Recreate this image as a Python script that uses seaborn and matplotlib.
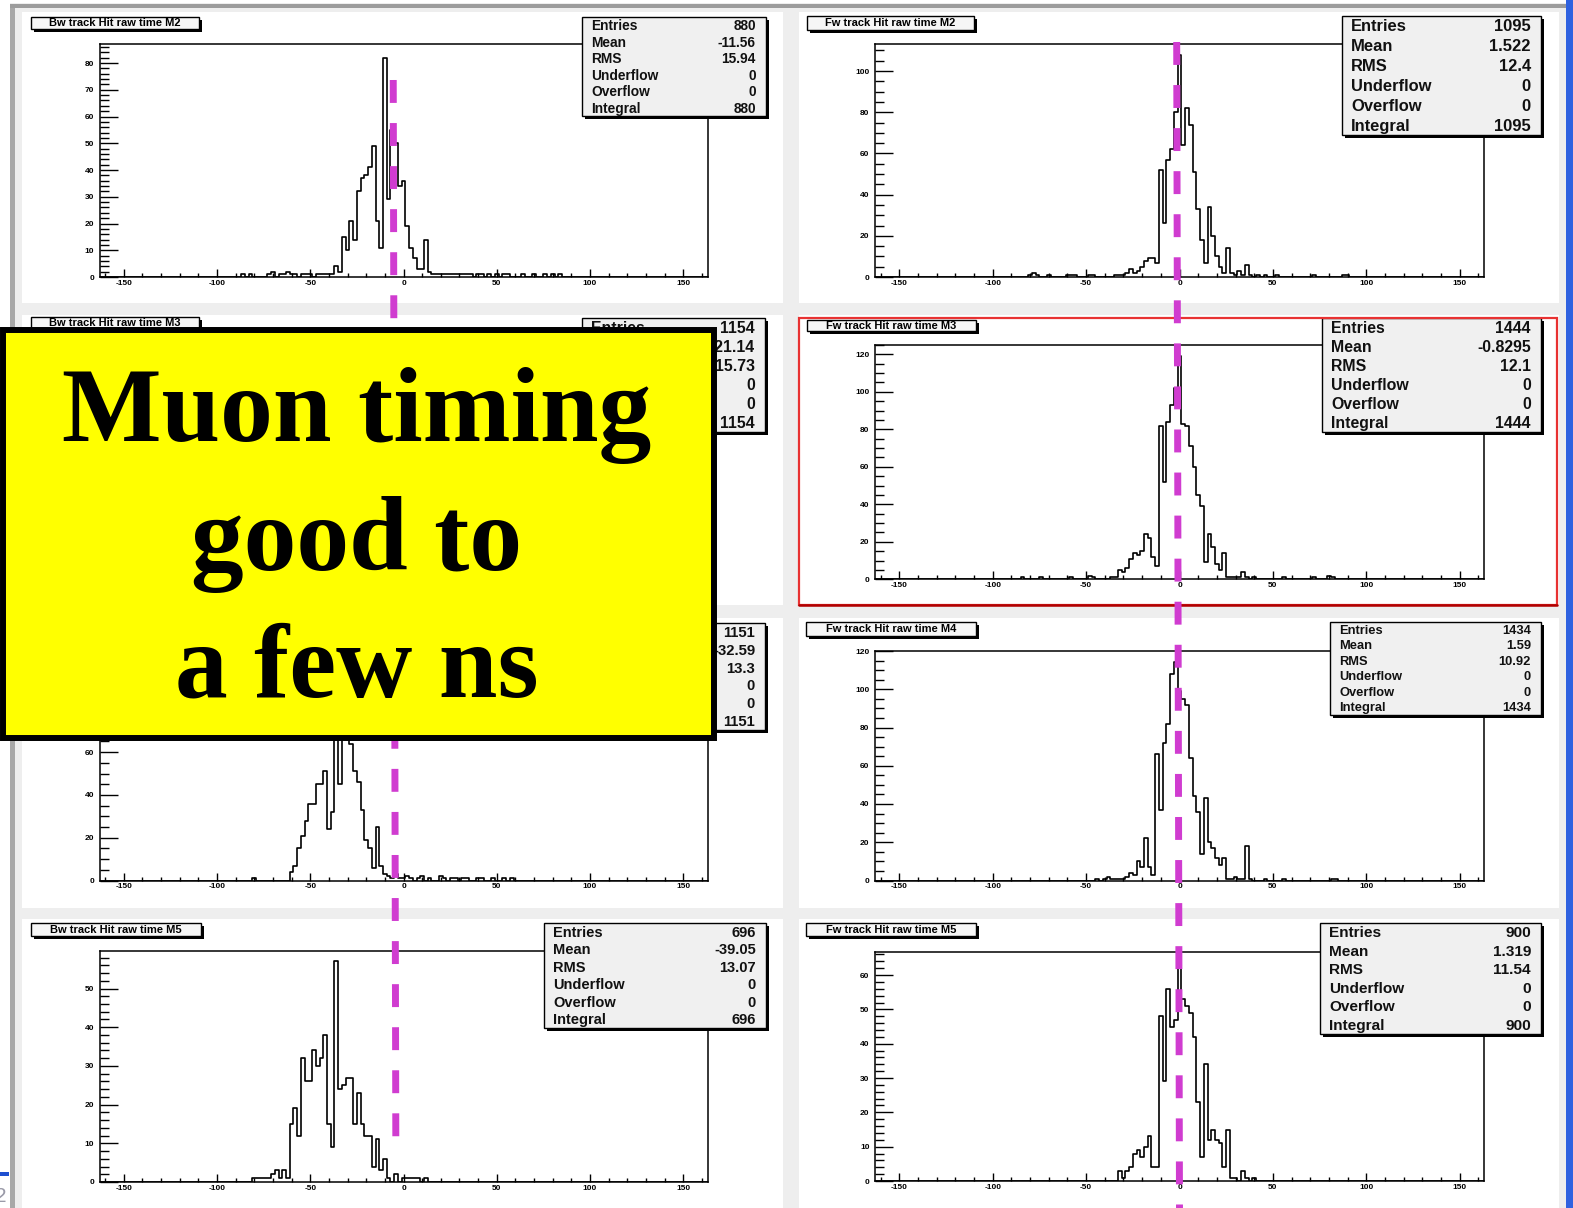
import numpy as np
import pandas as pd
import matplotlib
matplotlib.use("Agg")
import matplotlib.pyplot as plt
import seaborn as sns
from matplotlib.patches import Rectangle
from matplotlib.ticker import MultipleLocator, FuncFormatter

# ---------------- data ----------------
bin_lo, bin_hi, bin_width = -163, 163, 2     # histogram range (ns), 2 ns bins

# counts per bin: core = consecutive bins starting at bin centre *_start, tails = sparse bins
bw_m2_start = -36
bw_m2_core = [4, 2, 15, 10, 21, 14, 32, 37, 38, 41, 49, 21, 11, 82, 29, 55, 50, 34, 36,
              19, 11, 7, 3, 3, 14, 2, 1, 1, 1]
bw_m2_tail_t = [-86, -82, -72, -70, -66, -64, -62, -60, -58, -54, -52, -50, -46, -44, -42, -40, -38,
                22, 24, 26, 28, 30, 32, 34, 36, 40, 42, 46, 50, 54, 56, 64, 70, 76, 80, 84]
bw_m2_tail_n = [1, 1, 1, 2, 1, 1, 2, 1, 1, 1, 1, 1, 1, 1, 1, 1, 1,
                1, 1, 1, 1, 1, 1, 1, 1, 1, 1, 1, 1, 1, 1, 1, 1, 1, 1, 1]

fw_m2_start = -34
fw_m2_core = [1, 1, 1, 2, 4, 2, 3, 5, 8, 9, 9, 7, 52, 26, 57, 62, 80, 108, 64, 82, 74, 51,
              33, 18, 7, 34, 20, 10, 5, 2, 14, 2, 1, 3, 1, 6, 1]
fw_m2_tail_t = [-80, -78, -76, -70, -60, -58, -56, -48, -46, 42, 46, 52, 72, 88, 90]
fw_m2_tail_n = [1, 2, 1, 1, 1, 1, 1, 1, 1, 1, 1, 1, 1, 1, 1]

fw_m3_start = -32
fw_m3_core = [5, 4, 6, 11, 14, 13, 15, 24, 22, 12, 7, 82, 52, 84, 93, 102, 119, 83, 82, 71,
              60, 45, 39, 9, 24, 17, 8, 5, 14, 1, 1, 1, 1, 4, 1]
fw_m3_tail_t = [-84, -74, -58, -48, -46, -36, -34, 40, 56, 72, 80, 82]
fw_m3_tail_n = [1, 1, 1, 2, 1, 1, 1, 1, 1, 1, 2, 1]

bw_m4_start = -60
bw_m4_core = [4, 7, 15, 21, 28, 36, 36, 45, 45, 51, 24, 32, 80, 45, 95, 102, 64, 51, 46, 33,
              19, 15, 6, 25, 7, 3, 2, 1, 3, 1]
bw_m4_tail_t = [-80, 0, 2, 4, 8, 10, 14, 20, 22, 26, 28, 32, 34, 40, 42, 48, 54, 58]
bw_m4_tail_n = [1, 1, 2, 1, 1, 2, 1, 2, 1, 1, 1, 1, 1, 1, 1, 1, 1, 1]

fw_m4_start = -28
fw_m4_core = [2, 4, 3, 10, 7, 22, 7, 3, 66, 37, 72, 82, 108, 114, 99, 95, 92, 64, 44, 36,
              14, 43, 20, 17, 12, 8, 12, 1, 1, 2, 1, 1, 18, 1]
fw_m4_tail_t = [-44, -40, -38, -36, -34, -32, -30, 46, 56, 82, 84]
fw_m4_tail_n = [1, 1, 2, 1, 1, 1, 1, 1, 1, 1, 1]

bw_m5_start = -70
bw_m5_core = [2, 3, 1, 3, 1, 15, 19, 12, 32, 26, 26, 34, 30, 32, 38, 15, 9, 57, 24, 25, 27,
              27, 15, 23, 15, 12, 12, 4, 11, 3, 6, 1, 0, 2]
bw_m5_tail_t = [-80, -78, -76, -74, -72, 0, 2, 4, 6, 8, 12]
bw_m5_tail_n = [1, 1, 1, 1, 1, 1, 1, 1, 1, 1, 1]

fw_m5_start = -32
fw_m5_core = [3, 1, 3, 4, 8, 9, 7, 10, 13, 4, 4, 48, 29, 56, 45, 47, 64, 53, 51, 49, 42, 23,
              7, 34, 12, 15, 12, 11, 4, 15, 1, 1, 0, 3, 1]
fw_m5_tail_t = [40]
fw_m5_tail_n = [1]

titles = {"bw_m2": "Bw track Hit raw time M2", "fw_m2": "Fw track Hit raw time M2",
          "bw_m3": "Bw track Hit raw time M3", "fw_m3": "Fw track Hit raw time M3",
          "bw_m4": "Bw track Hit raw time M4", "fw_m4": "Fw track Hit raw time M4",
          "bw_m5": "Bw track Hit raw time M5", "fw_m5": "Fw track Hit raw time M5"}

stat_names = ["Entries", "Mean", "RMS", "Underflow", "Overflow", "Integral"]
stats_bw_m2 = ["880", "-11.56", "15.94", "0", "0", "880"]
stats_fw_m2 = ["1095", "1.522", "12.4", "0", "0", "1095"]
stats_bw_m3 = ["1154", "-21.14", "15.73", "0", "0", "1154"]
stats_fw_m3 = ["1444", "-0.8295", "12.1", "0", "0", "1444"]
stats_bw_m4 = ["1151", "-32.59", "13.3", "0", "0", "1151"]
stats_fw_m4 = ["1434", "1.59", "10.92", "0", "0", "1434"]
stats_bw_m5 = ["696", "-39.05", "13.07", "0", "0", "696"]
stats_fw_m5 = ["900", "1.319", "11.54", "0", "0", "900"]

ref_bw = [-5.5, -4.1]   # hand-drawn reference time, backward column (top, bottom), ns
ref_fw = [-1.5, 0.0]    # forward column
callout_lines = ["Muon timing", "good to", "a few ns"]

# ---------------- style ----------------
sns.set_theme(style="ticks")
plt.rcParams['font.family'] = ['Liberation Sans', 'DejaVu Sans']
plt.rcParams['font.weight'] = 'bold'
plt.rcParams['axes.unicode_minus'] = False

W, H = 1573, 1208
fig = plt.figure(figsize=(W / 100, H / 100), dpi=100, facecolor="#eeeeee")


def rect_fig(x0, y0, x1, y1):
    return [x0 / W, 1 - y1 / H, (x1 - x0) / W, (y1 - y0) / H]


def prect(ax, x0, y0, x1, y1, **kw):
    ax.add_patch(Rectangle((x0, y0), x1 - x0, y1 - y0, **kw))


edges = np.arange(bin_lo, bin_hi + bin_width, bin_width)
centers = edges[:-1] + bin_width / 2


def build_counts(start, core, tail_t, tail_n):
    counts = np.zeros(len(centers))
    i0 = int(round((start - centers[0]) / bin_width))
    counts[i0:i0 + len(core)] += np.asarray(core, float)
    for t, n in zip(tail_t, tail_n):
        counts[int(round((t - centers[0]) / bin_width))] += n
    return counts


# background: pads and window edges
bg = fig.add_axes([0, 0, 1, 1], zorder=-5)
bg.set_xlim(0, W); bg.set_ylim(H, 0); bg.axis('off')
for cx0, cx1 in [(22, 783), (799, 1559)]:
    for ry0, ry1 in [(12, 303), (315, 605), (618, 908), (919, 1208)]:
        prect(bg, cx0, ry0, cx1, ry1, facecolor='white', edgecolor='none')
prect(bg, 0, 0, 10, H, facecolor='white', edgecolor='none')
prect(bg, 10, 4, 15, H, facecolor='#a8a8a8', edgecolor='none')
prect(bg, 0, 0, W, 3, facecolor='white', edgecolor='none')
prect(bg, 10, 4, 1566, 8, facecolor='#9c9c9c', edgecolor='none')

L = (99.5, 707.5)
R = (875, 1484)
panels = [
    dict(key="bw_m2", stats=stats_bw_m2, hist=(bw_m2_start, bw_m2_core, bw_m2_tail_t, bw_m2_tail_n),
         frame=(L[0], 44.3, L[1], 277), ymax=87, ymaj=10, ymin=2,
         sbox=(582, 17, 766, 116), tbox=(31, 17, 199, 29)),
    dict(key="fw_m2", stats=stats_fw_m2, hist=(fw_m2_start, fw_m2_core, fw_m2_tail_t, fw_m2_tail_n),
         frame=(R[0], 44.3, R[1], 277), ymax=113, ymaj=20, ymin=5,
         sbox=(1342, 16, 1541, 135), tbox=(807, 16, 974, 30)),
    dict(key="bw_m3", stats=stats_bw_m3, hist=None,
         frame=(L[0], 345, L[1], 579), ymax=110, ymaj=20, ymin=5,
         sbox=(582, 318, 765, 432), tbox=(31, 317, 199, 329)),
    dict(key="fw_m3", stats=stats_fw_m3, hist=(fw_m3_start, fw_m3_core, fw_m3_tail_t, fw_m3_tail_n),
         frame=(R[0], 345, R[1], 579.3), ymax=125, ymaj=20, ymin=5,
         sbox=(1322, 318, 1541, 432), tbox=(807, 320, 976, 331)),
    dict(key="bw_m4", stats=stats_bw_m4, hist=(bw_m4_start, bw_m4_core, bw_m4_tail_t, bw_m4_tail_n),
         frame=(L[0], 651, L[1], 880.5), ymax=107.3, ymaj=20, ymin=5,
         sbox=(582, 623, 765, 730), tbox=(31, 622, 199, 635)),
    dict(key="fw_m4", stats=stats_fw_m4, hist=(fw_m4_start, fw_m4_core, fw_m4_tail_t, fw_m4_tail_n),
         frame=(R[0], 651, R[1], 880.5), ymax=120, ymaj=20, ymin=5,
         sbox=(1330, 622, 1541, 715), tbox=(806, 622, 976, 636)),
    dict(key="bw_m5", stats=stats_bw_m5, hist=(bw_m5_start, bw_m5_core, bw_m5_tail_t, bw_m5_tail_n),
         frame=(L[0], 951, L[1], 1182), ymax=59.7, ymaj=10, ymin=2,
         sbox=(544, 923, 766, 1028), tbox=(31, 923, 201, 936)),
    dict(key="fw_m5", stats=stats_fw_m5, hist=(fw_m5_start, fw_m5_core, fw_m5_tail_t, fw_m5_tail_n),
         frame=(R[0], 951.7, R[1], 1181), ymax=66.8, ymaj=10, ymin=2,
         sbox=(1320, 923, 1541, 1034), tbox=(806, 923, 976, 936)),
]

fmt = FuncFormatter(lambda v, p: f"{int(round(v))}")
axes = {}
for p in panels:
    ax = fig.add_axes(rect_fig(*p['frame']), zorder=1)
    ax.set_facecolor('white')
    if p['hist'] is not None:
        df = pd.DataFrame({"time": centers, "hits": build_counts(*p['hist'])})
        sns.histplot(data=df, x="time", weights="hits", bins=list(edges), element='step',
                     fill=False, color='black', linewidth=1.2, ax=ax)
    ax.set_xlim(bin_lo, bin_hi)
    ax.set_ylim(0, p['ymax'])
    ax.set_xlabel(''); ax.set_ylabel('')
    ax.grid(False)
    for s in ax.spines.values():
        s.set_visible(True); s.set_color('black'); s.set_linewidth(1.1)
    ax.xaxis.set_major_locator(MultipleLocator(50))
    ax.xaxis.set_minor_locator(MultipleLocator(10))
    ax.yaxis.set_major_locator(MultipleLocator(p['ymaj']))
    ax.yaxis.set_minor_locator(MultipleLocator(p['ymin']))
    ax.xaxis.set_major_formatter(fmt)
    ax.yaxis.set_major_formatter(fmt)
    ax.tick_params(axis='both', which='both', direction='in', color='black', width=1.0,
                   labelcolor='black', top=False, right=False, bottom=True, left=True)
    ax.tick_params(axis='x', which='major', length=6, pad=2.0, labelsize=6)
    ax.tick_params(axis='x', which='minor', length=3)
    ax.tick_params(axis='y', which='major', length=13, pad=4, labelsize=6)
    ax.tick_params(axis='y', which='minor', length=6.5)
    if p['hist'] is None:
        # panel fully covered by the callout: no visible axis labels
        ax.tick_params(labelleft=False, labelbottom=False)
    axes[p['key']] = ax

# overlay: boxes, reference lines, callout
ov = fig.add_axes([0, 0, 1, 1], zorder=5)
ov.set_xlim(0, W); ov.set_ylim(H, 0); ov.axis('off')

for p in panels:
    x0, y0, x1, y1 = p['tbox']
    prect(ov, x0 + 3, y0 + 3, x1 + 3, y1 + 3, facecolor='black', edgecolor='none', zorder=2)
    prect(ov, x0, y0, x1, y1, facecolor='#f6f6f6', edgecolor='black', linewidth=1.0, zorder=2.1)
    ov.text((x0 + x1) / 2, (y0 + y1) / 2 + 0.5, titles[p['key']], ha='center', va='center',
            fontsize=8.0, color='black', zorder=2.2)

    x0, y0, x1, y1 = p['sbox']
    prect(ov, x0 + 3, y0 + 3, x1 + 3, y1 + 3, facecolor='black', edgecolor='none', zorder=2)
    prect(ov, x0, y0, x1, y1, facecolor='#f0f0f0', edgecolor='black', linewidth=1.0, zorder=2.1)
    step = (y1 - y0) / 6.0
    fs = step * 0.6
    for i, (nm, val) in enumerate(zip(stat_names, p['stats'])):
        yy = y0 + (i + 0.5) * step + 1
        ov.text(x0 + 9, yy, nm, ha='left', va='center', fontsize=fs, color='#111111', zorder=2.2)
        ov.text(x1 - 10, yy, val, ha='right', va='center', fontsize=fs, color='#111111', zorder=2.2)

# red highlight around Fw M3
prect(ov, 799, 318, 1557, 605, facecolor='none', edgecolor='#e83232', linewidth=1.6, zorder=2.5)
ov.plot([799, 1557], [605, 605], color='#b00000', lw=1.8, zorder=2.6)


def px_x(ax, t):
    d = ax.transData.transform((t, 0))
    return ov.transData.inverted().transform(d)[0]


mag = '#d03cd0'
dash = (0, (3.3, 2.9))
ov.plot([px_x(axes['bw_m2'], ref_bw[0]), px_x(axes['bw_m5'], ref_bw[1])], [80, 1153],
        color=mag, lw=5, linestyle=dash, zorder=4)
ov.plot([px_x(axes['fw_m2'], ref_fw[0]), px_x(axes['fw_m5'], ref_fw[1])], [42, 1212],
        color=mag, lw=5, linestyle=dash, zorder=4)

# yellow callout
prect(ov, 3, 329.7, 713.5, 737.7, facecolor='#ffff00', edgecolor='black', linewidth=4.3, zorder=10)
for txt, yb in zip(callout_lines, [441, 570, 697]):
    ov.text(357, yb, txt, ha='center', va='baseline', fontsize=76, color='black',
            family=['Liberation Serif', 'DejaVu Serif'], fontweight='bold', zorder=11)

# window edge decorations
prect(ov, 1566, 0, W, H, facecolor='#2f62e0', edgecolor='none', zorder=12)
prect(ov, 0, 1172, 9, 1176, facecolor='#1f4fd0', edgecolor='none', zorder=12)
ov.text(-5, 1196, "2", ha='left', va='center', fontsize=15, color='#9a9aa8',
        fontweight='normal', zorder=12)

fig.savefig("out.png", dpi=100, facecolor=fig.get_facecolor())
